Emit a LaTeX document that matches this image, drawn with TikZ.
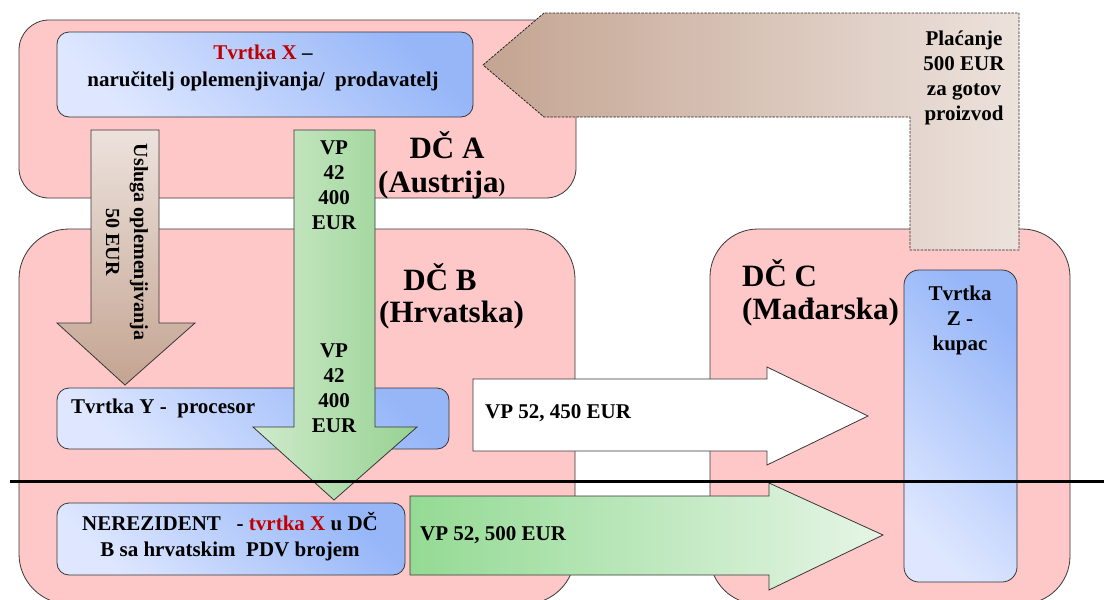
\documentclass[tikz,border=0pt]{standalone}
\usepackage{fontspec}
\setmainfont{Liberation Serif}
\definecolor{pinkfill}{RGB}{255,200,200}
\definecolor{edge}{RGB}{55,55,55}
\definecolor{blueL}{RGB}{222,231,255}
\definecolor{blueD}{RGB}{150,182,248}
\definecolor{brownL}{RGB}{236,226,220}
\definecolor{brownD}{RGB}{196,164,146}
\definecolor{greenL}{RGB}{208,234,204}
\definecolor{greenD}{RGB}{150,210,146}
\definecolor{greenH}{RGB}{148,218,148}
\definecolor{greenHL}{RGB}{230,245,230}
\definecolor{xred}{RGB}{192,0,0}
\begin{document}
\begin{tikzpicture}[x=1pt,y=-1pt,
  country/.style={draw=edge, line width=0.8pt, fill=pinkfill, anchor=north west,
    inner sep=0pt, outer sep=0pt},
  firm/.style={draw=edge, line width=0.8pt, bottom color=blueL, top color=blueD,
    shading angle=-45, anchor=north west, inner sep=0pt, outer sep=0pt,
    rounded corners=12pt},
  flow/.style={draw=edge, line width=0.8pt},
  title/.style={font=\fontsize{31}{36}\selectfont\bfseries, inner sep=0pt},
  lbl/.style={font=\fontsize{21}{25}\selectfont\bfseries, inner sep=0pt}]
\useasboundingbox (0,0) rectangle (1104,600);

% member states
\node[country, minimum width=557pt, minimum height=178pt, rounded corners=30pt] (dcA) at (19,20) {};
\node[country, minimum width=556pt, minimum height=375pt, rounded corners=50pt] (dcB) at (19,229) {};
\node[country, minimum width=360pt, minimum height=375pt, rounded corners=48pt] (dcC) at (710,229) {};

% payment for the finished product
\shadedraw[flow, draw=black!85, dash pattern=on 2.5pt off 1.2pt, left color=brownD, right color=brownL]
  (483,65) -- (544,13) -- (1019,13) -- (1019,250) -- (910,250) -- (910,117) -- (544,117) -- cycle;
\node[lbl, align=center] (pay) at (964,78) {Plaćanje\\500 EUR\\za gotov\\proizvod};

% company X
\node[firm, minimum width=416pt, minimum height=85pt] (firmX) at (57,32) {};
\node[lbl, align=center, font=\fontsize{21}{27}\selectfont\bfseries] (firmXtext) at (263,68)
  {\textcolor{xred}{Tvrtka X} –\\naručitelj oplemenjivanja/\ \ prodavatelj};

% processing service
\shadedraw[flow, top color=brownL, bottom color=brownD]
  (91,130) -- (159,130) -- (159,323) -- (195,323) -- (125,385) -- (57,323) -- (91,323) -- cycle;
\node[lbl, rotate=-90, align=center, font=\fontsize{20}{28}\selectfont\bfseries] (svc) at (127,242)
  {Usluga oplemenjivanja\\50 EUR};

% company Y
\node[firm, minimum width=392pt, minimum height=61pt] (firmY) at (57,388) {};
\node[lbl, anchor=west] (firmYtext) at (71,408) {Tvrtka Y\ - \ procesor};

% supply of goods for processing
\shadedraw[flow, left color=greenL, right color=greenD]
  (294,130) -- (375,130) -- (375,427) -- (417,427) -- (334,500) -- (253,427) -- (294,427) -- cycle;
\node[lbl, align=center] (vpA) at (334,185) {VP\\42\\400\\EUR};
\node[lbl, align=center] (vpB) at (334,388) {VP\\42\\400\\EUR};

% state titles
\node[title] (tA1) at (447,145) {DČ A};
\node[title, anchor=west] (tA2) at (378,185) {(Austrija{\fontsize{20}{20}\selectfont )}};
\node[title] (tB1) at (440,277) {DČ B};
\node[title, anchor=west] (tB2) at (379,315) {(Hrvatska)};
\node[title, anchor=west] (tC1) at (742,273) {DČ C};
\node[title, anchor=west] (tC2) at (742,312) {(Mađarska)};

% company Z
\node[firm, minimum width=113pt, minimum height=312pt, rounded corners=15pt] (firmZ) at (904,270) {};
\node[lbl, align=center] (firmZtext) at (960,320) {Tvrtka\\Z -\\kupac};

% sale to the buyer
\draw[flow, fill=white]
  (473,379) -- (767,379) -- (767,367) -- (868,416) -- (767,465) -- (767,451) -- (473,451) -- cycle;
\node[lbl, anchor=west] (vp450) at (485,413) {VP 52, 450 EUR};

\shadedraw[flow, left color=greenH, right color=greenHL]
  (410,496) -- (769,496) -- (769,483) -- (883,535) -- (769,590) -- (769,575) -- (410,575) -- cycle;
\node[lbl, anchor=west] (vp500) at (420,535) {VP 52, 500 EUR};

% non-resident registration
\node[firm, minimum width=348pt, minimum height=72pt] (nonres) at (57,503) {};
\node[lbl, align=center, font=\fontsize{21}{26}\selectfont\bfseries] (nonrestext) at (230,537)
  {NEREZIDENT\ \ \ - \textcolor{xred}{tvrtka X} u DČ\\B sa hrvatskim\ \ PDV brojem};

% border line
\coordinate (lineL) at (10,481);
\coordinate (lineR) at (1104,481);
\draw[line width=3pt] (lineL) -- (lineR);
\end{tikzpicture}
\end{document}
